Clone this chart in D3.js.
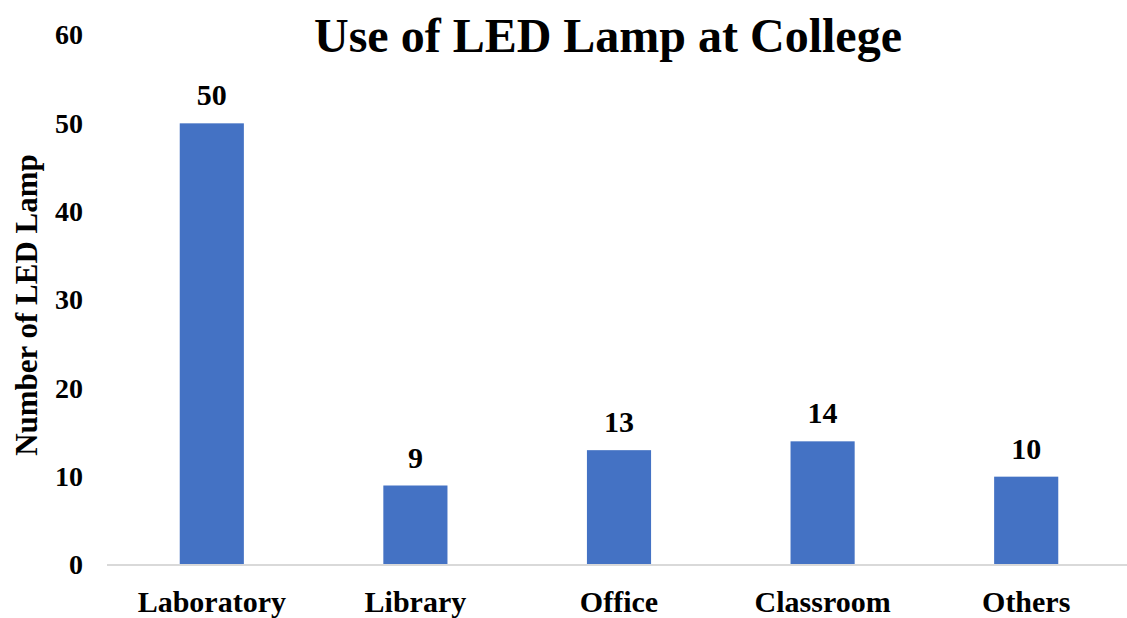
<!DOCTYPE html>
<html>
<head>
<meta charset="utf-8">
<script src="https://cdn.jsdelivr.net/npm/d3@7"></script>
<style>
  body { margin: 0; background: #fff; }
  text { font-family: "Liberation Serif", "Times New Roman", serif; font-weight: bold; fill: #000; }
</style>
</head>
<body>
<script>
// chart data
const categories = ["Laboratory", "Library", "Office", "Classroom", "Others"];
const lampCounts = [50, 9, 13, 14, 10];
const yTicks = [0, 10, 20, 30, 40, 50, 60];

const width = 1127, height = 618;
const plotLeft = 110, plotRight = 1128, plotTop = 35, plotBottom = 565;

const svg = d3.select("body").append("svg")
    .attr("width", width)
    .attr("height", height);

const xScale = d3.scaleBand(categories, [plotLeft, plotRight])
    .paddingInner(0.685)
    .paddingOuter(0.3425);
const yScale = d3.scaleLinear([0, 60], [plotBottom, plotTop]);

// title
svg.append("text")
    .attr("x", 608)
    .attr("y", 52)
    .attr("text-anchor", "middle")
    .style("font-size", "48px")
    .text("Use of LED Lamp at College");

// y axis (labels only)
const yAxis = d3.axisLeft(yScale).tickValues(yTicks).tickSize(0).tickPadding(0);
svg.append("g")
    .attr("transform", "translate(83,0)")
    .call(yAxis)
    .call(g => g.select(".domain").remove())
    .call(g => g.selectAll(".tick text")
        .attr("font-family", null)
        .attr("font-size", null)
        .style("font-size", "28px"));

svg.append("text")
    .attr("transform", "translate(37,305) rotate(-90)")
    .attr("text-anchor", "middle")
    .style("font-size", "31px")
    .text("Number of LED Lamp");

// bars
svg.append("g")
    .attr("fill", "#4472C4")
    .selectAll("rect")
    .data(lampCounts)
    .join("rect")
    .attr("x", (d, i) => xScale(categories[i]))
    .attr("width", xScale.bandwidth())
    .attr("y", d => yScale(d))
    .attr("height", d => yScale(0) - yScale(d));

// value labels
svg.append("g")
    .selectAll("text")
    .data(lampCounts)
    .join("text")
    .attr("x", (d, i) => xScale(categories[i]) + xScale.bandwidth() / 2)
    .attr("y", d => yScale(d) - 18)
    .attr("text-anchor", "middle")
    .style("font-size", "30px")
    .text(d => d);

// x axis
const xAxis = d3.axisBottom(xScale).tickSize(0).tickPadding(0);
svg.append("g")
    .attr("transform", `translate(0,${plotBottom})`)
    .call(xAxis)
    .call(g => g.select(".domain")
        .attr("d", `M${plotLeft - 3},0H${width}`)
        .attr("stroke", "#d9d9d9")
        .attr("stroke-width", 2))
    .call(g => g.selectAll(".tick text")
        .attr("font-family", null)
        .attr("font-size", null)
        .attr("dy", null)
        .attr("y", 47)
        .style("font-size", "30px"));
</script>
</body>
</html>
